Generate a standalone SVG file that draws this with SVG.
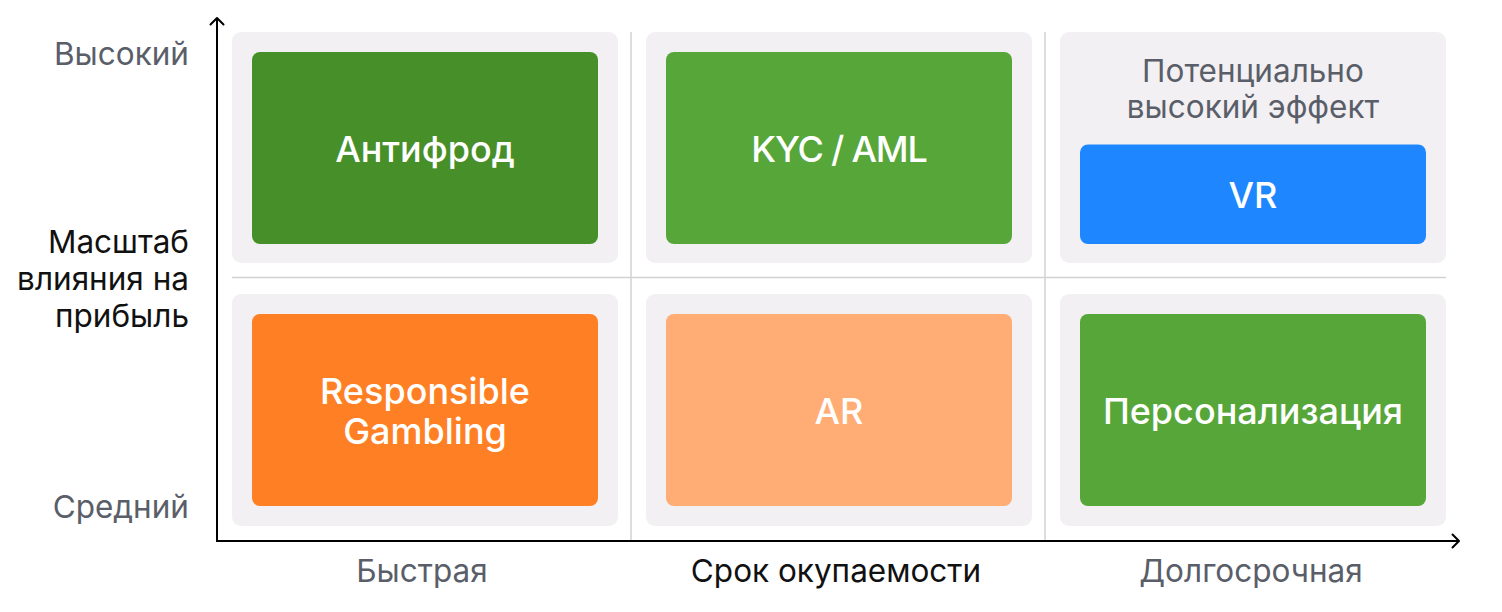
<svg xmlns="http://www.w3.org/2000/svg" width="1502" height="612" viewBox="0 0 1502 612">
<style>
  .cell { fill: #F2F0F3; }
  .box-label { font-family: Inter, "Noto Sans", sans-serif; font-size: 36px; font-weight: 500; fill: #FFFFFF; text-anchor: middle; }
  .axis-label { font-family: Inter, "Noto Sans", sans-serif; font-size: 31.5px; fill: #5A5E69; }
  .axis-title { font-family: Inter, "Noto Sans", sans-serif; font-size: 31.5px; fill: #111111; }
  .grid { stroke: #D2D2D2; stroke-width: 1.5; fill: none; }
  .axis { stroke: #000000; stroke-width: 2; fill: none; }
  .head { stroke: #000000; stroke-width: 2; fill: none; stroke-linecap: round; stroke-linejoin: round; }
</style>
<rect width="1502" height="612" fill="#FFFFFF"/>

<g id="grid">
  <line class="grid" x1="631" y1="32" x2="631" y2="541"/>
  <line class="grid" x1="1045" y1="32" x2="1045" y2="541"/>
  <line class="grid" x1="232" y1="277.5" x2="1446" y2="277.5"/>
</g>

<g id="cells">
  <rect class="cell" x="232" y="32" width="386" height="231" rx="9"/>
  <rect class="cell" x="646" y="32" width="386" height="231" rx="9"/>
  <rect class="cell" x="1060" y="32" width="386" height="231" rx="9"/>
  <rect class="cell" x="232" y="294" width="386" height="232" rx="9"/>
  <rect class="cell" x="646" y="294" width="386" height="232" rx="9"/>
  <rect class="cell" x="1060" y="294" width="386" height="232" rx="9"/>
</g>

<g id="connectors">
  <line class="axis" x1="217" y1="541" x2="217" y2="18"/>
  <polyline class="head" points="210.5,24.5 217,18 223.5,24.5"/>
  <line class="axis" x1="216" y1="541" x2="1459" y2="541"/>
  <polyline class="head" points="1452.5,534.5 1459,541 1452.5,547.5"/>
</g>

<g id="node-antifrod">
  <rect x="252" y="52" width="346" height="192" rx="8" fill="#478F29"/>
  <text class="box-label" x="425" y="162">Антифрод</text>
</g>
<g id="node-kyc">
  <rect x="666" y="52" width="346" height="192" rx="8" fill="#57A639"/>
  <text class="box-label" x="839" y="162" letter-spacing="-1.2">KYC / AML</text>
</g>
<g id="node-vr">
  <text class="axis-label" x="1253" y="82" text-anchor="middle">Потенциально</text>
  <text class="axis-label" x="1253" y="118" text-anchor="middle">высокий эффект</text>
  <rect x="1080" y="144.5" width="346" height="99.5" rx="8" fill="#1E87FF"/>
  <text class="box-label" x="1253" y="208">VR</text>
</g>
<g id="node-rg">
  <rect x="252" y="314" width="346" height="192" rx="8" fill="#FF7F24"/>
  <text class="box-label" x="425" y="403.5">Responsible</text>
  <text class="box-label" x="425" y="443.5">Gambling</text>
</g>
<g id="node-ar">
  <rect x="666" y="314" width="346" height="192" rx="8" fill="#FFAC75"/>
  <text class="box-label" x="839" y="423.5">AR</text>
</g>
<g id="node-pers">
  <rect x="1080" y="314" width="346" height="192" rx="8" fill="#57A639"/>
  <text class="box-label" x="1253" y="424">Персонализация</text>
</g>

<g id="y-labels">
  <text class="axis-label" x="189" y="65" text-anchor="end">Высокий</text>
  <text class="axis-title" x="189" y="253" text-anchor="end">Масштаб</text>
  <text class="axis-title" x="189" y="290" text-anchor="end">влияния на</text>
  <text class="axis-title" x="189" y="327" text-anchor="end">прибыль</text>
  <text class="axis-label" x="189" y="518" text-anchor="end">Средний</text>
</g>

<g id="x-labels">
  <text class="axis-label" x="422" y="582" text-anchor="middle">Быстрая</text>
  <text class="axis-title" x="836" y="582" text-anchor="middle">Срок окупаемости</text>
  <text class="axis-label" x="1251" y="582" text-anchor="middle">Долгосрочная</text>
</g>
</svg>
